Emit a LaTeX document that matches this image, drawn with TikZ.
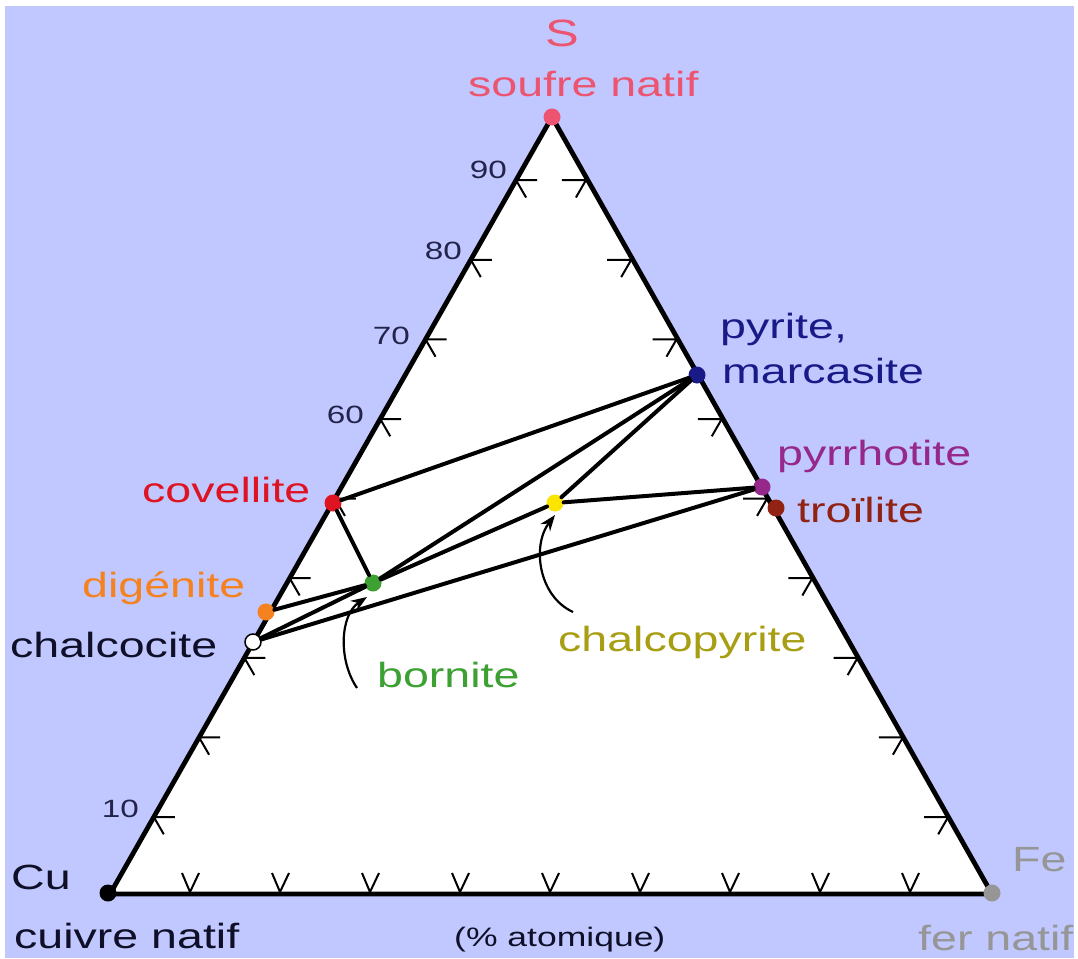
\documentclass[tikz,border=0pt]{standalone}
\usepackage{fontspec}
\setmainfont{Liberation Sans}
\newfontfamily\lab{Liberation Sans}[FakeStretch=1.33]
\usetikzlibrary{arrows.meta}
\definecolor{bgblue}{RGB}{192,200,255}
\definecolor{spink}{RGB}{236,84,112}
\definecolor{numcol}{RGB}{35,35,75}
\definecolor{pyrcol}{RGB}{25,25,135}
\definecolor{pyrrcol}{RGB}{150,40,140}
\definecolor{troicol}{RGB}{145,35,20}
\definecolor{covcol}{RGB}{222,20,35}
\definecolor{digcol}{RGB}{245,130,30}
\definecolor{darktxt}{RGB}{15,15,40}
\definecolor{borncol}{RGB}{60,160,50}
\definecolor{cpyellow}{RGB}{250,228,0}
\definecolor{cptext}{RGB}{168,158,20}
\definecolor{fegray}{RGB}{150,150,150}
\begin{document}
\begin{tikzpicture}[x=1pt,y=-1pt,
  dot/.style={circle,inner sep=0pt,minimum size=17pt},
  tie/.style={line width=4pt,line cap=round},
  tickmark/.style={line width=2pt},
  lbl/.style={anchor=base west,inner sep=0pt,font=\lab\fontsize{35}{40}\selectfont},
  numlbl/.style={anchor=base east,inner sep=0pt,text=numcol,font=\lab\fontsize{25}{30}\selectfont},
  ptr/.style={line width=2.2pt,-{Stealth[length=16pt,width=12pt]}}]
\useasboundingbox (0,0) rectangle (1078,958);
\fill[white] (0,0) rectangle (1078,958);
\fill[bgblue] (5,6) rectangle (1074,958);
% triangle
\coordinate (vCu) at (110,894);
\coordinate (vFe) at (992,894);
\coordinate (vS) at (552,117);
\filldraw[fill=white,draw=black,line width=4.8pt,line join=miter] (vCu) -- (vFe) -- (vS) -- cycle;
% ticks
\foreach \k in {0,...,8}{
  \pgfmathsetmacro\ty{817-79.6*\k}
  \pgfmathsetmacro\lx{110+(894-\ty)*0.5689}
  \pgfmathsetmacro\rx{992-(894-\ty)*0.5689}
  \pgfmathsetmacro\bx{190+90*\k}
  \draw[tickmark] (\lx+21,\ty) -- (\lx,\ty) -- (\lx+10,\ty+17.3);
  \draw[tickmark] (\rx-24,\ty) -- (\rx,\ty) -- (\rx-10,\ty+17.3);
  \draw[tickmark] (\bx-8,873) -- (\bx,892) -- (\bx+9,873);
}
% scale numbers
\node[numlbl] (n90) at (507,178) {90};
\node[numlbl] (n80) at (462,259) {80};
\node[numlbl] (n70) at (410,344) {70};
\node[numlbl] (n60) at (364,423) {60};
\node[numlbl] (n10) at (139,817) {10};
% mineral points
\node[dot,fill=spink] (sou) at (552,117) {};
\node[dot,fill=black] (cu) at (108,893) {};
\node[dot,fill=fegray] (fe) at (992,893) {};
\node[dot,fill=pyrcol] (pyr) at (697,375) {};
\node[dot,fill=pyrrcol] (pyrr) at (762,487) {};
\node[dot,fill=troicol] (troi) at (776,508) {};
\node[dot,fill=covcol] (cov) at (333,503) {};
\node[dot,fill=borncol] (born) at (373,583) {};
\node[dot,fill=digcol] (dig) at (266,612) {};
\node[dot,fill=white,draw=black,line width=1.5pt,minimum size=16pt] (chc) at (253,642) {};
\node[dot,fill=cpyellow] (cpy) at (555,503) {};
% tie lines
\draw[tie] (cov) -- (pyr);
\draw[tie] (cov) -- (born);
\draw[tie] (dig) -- (born);
\draw[tie] (chc) -- (born);
\draw[tie] (chc) -- (pyrr);
\draw[tie] (born) -- (pyr);
\draw[tie] (born) -- (cpy);
\draw[tie] (cpy) -- (pyr);
\draw[tie] (cpy) -- (pyrr);
% pointer arrows
\coordinate (bstart) at (357,688);
\coordinate (btip) at (367,597);
\coordinate (cstart) at (573,612);
\coordinate (ctip) at (555,515);
\draw[ptr] (bstart) .. controls (338,660) and (340,615) .. (btip);
\draw[ptr] (cstart) .. controls (538,596) and (532,545) .. (ctip);
% labels
\node[lbl,text=spink,font=\lab\fontsize{38}{42}\selectfont] (tS) at (545,47) {S};
\node[lbl,text=spink] (tsou) at (468,96) {soufre natif};
\node[lbl,text=pyrcol] (tpyr1) at (720,338) {pyrite,};
\node[lbl,text=pyrcol] (tpyr2) at (722,383) {marcasite};
\node[lbl,text=pyrrcol] (tpyrr) at (777,465) {pyrrhotite};
\node[lbl,text=troicol] (ttroi) at (797,522) {troïlite};
\node[lbl,text=covcol] (tcov) at (142,502) {covellite};
\node[lbl,text=digcol] (tdig) at (82,597) {digénite};
\node[lbl,text=darktxt] (tchc) at (10,657) {chalcocite};
\node[lbl,text=borncol] (tborn) at (377,687) {bornite};
\node[lbl,text=cptext] (tcpy) at (558,651) {chalcopyrite};
\node[lbl,text=darktxt] (tCu) at (11,889) {Cu};
\node[lbl,text=darktxt] (tcun) at (14,948) {cuivre natif};
\node[lbl,text=darktxt,font=\lab\fontsize{26.7}{30}\selectfont] (tat) at (454,946) {(\% atomique)};
\node[lbl,text=fegray] (tFe) at (1012,871) {Fe};
\node[lbl,text=fegray] (tfen) at (918,950) {fer natif};
\end{tikzpicture}
\end{document}
